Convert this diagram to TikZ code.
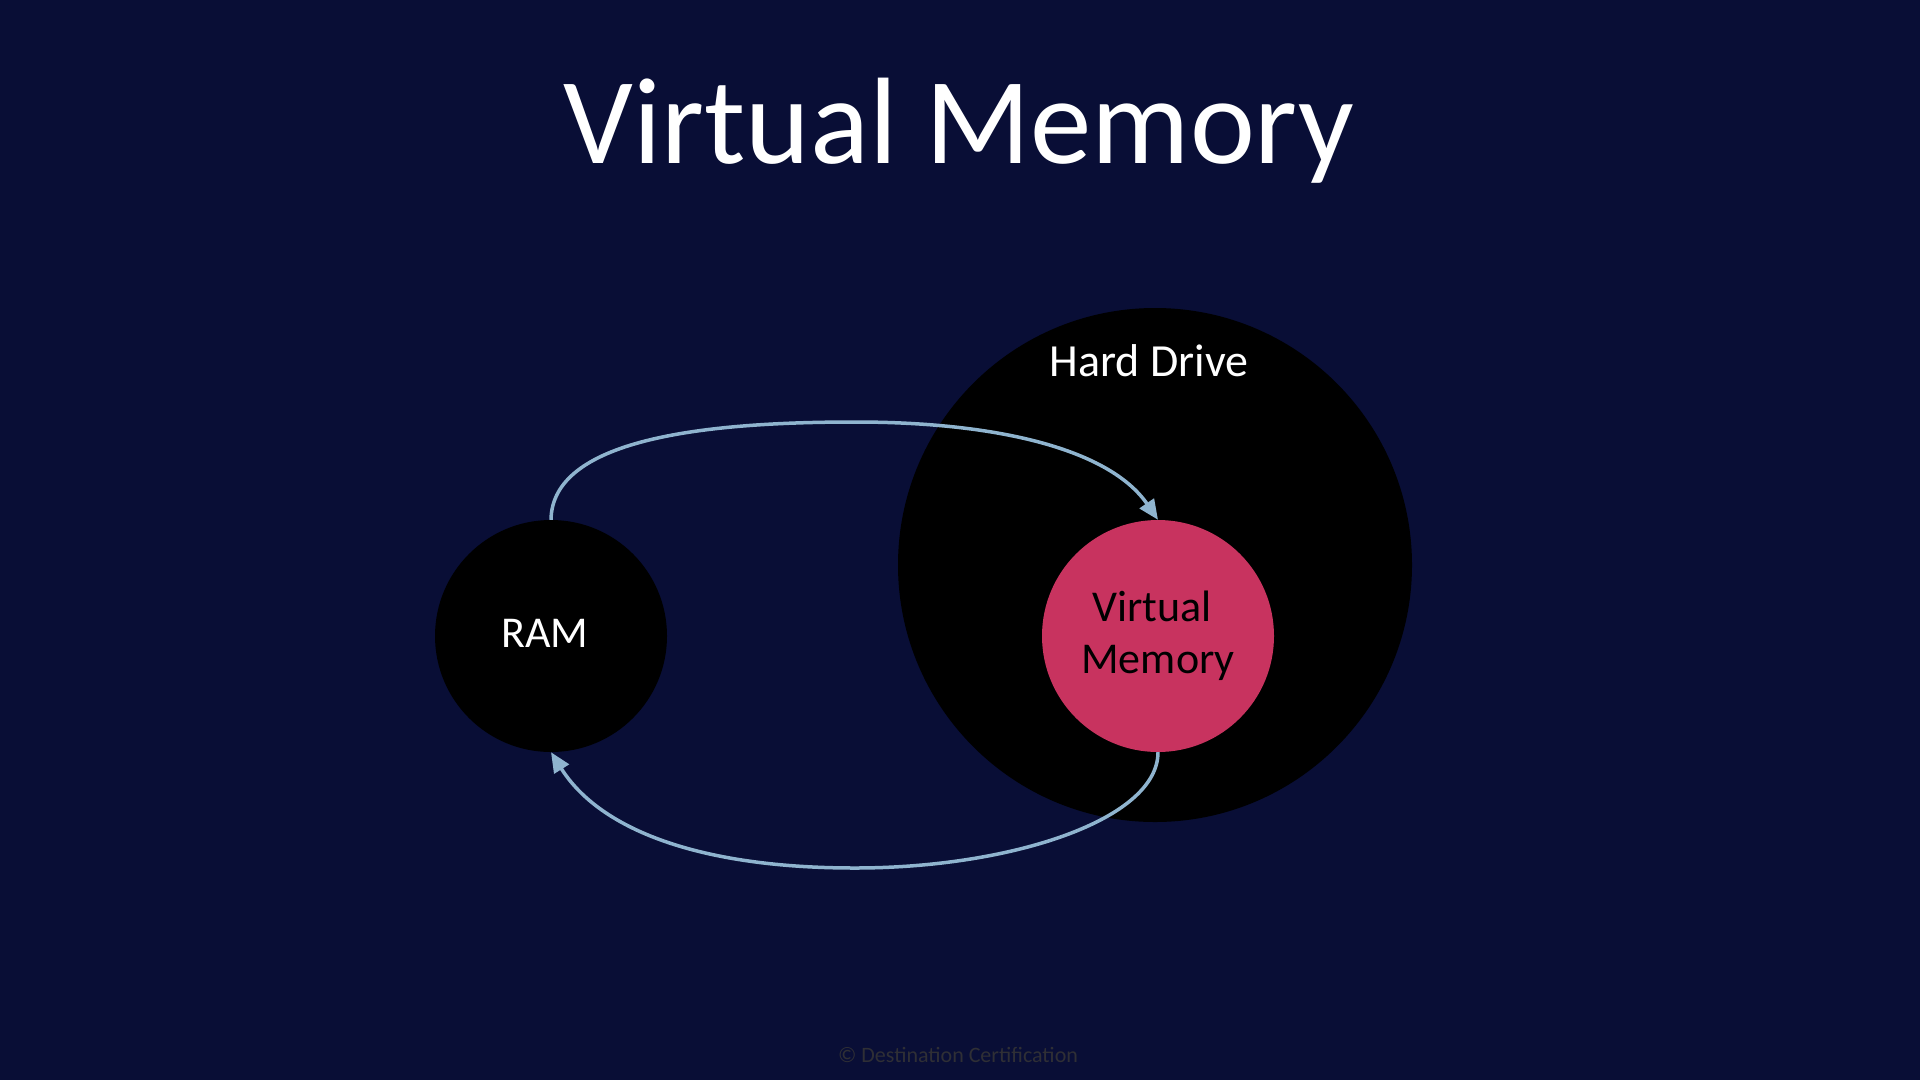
\documentclass[tikz,border=0pt]{standalone}
\usepackage{fontspec}
\setmainfont{Carlito}
\usetikzlibrary{arrows.meta}
\definecolor{bgnavy}{HTML}{090E36}
\definecolor{vmpink}{HTML}{C8335F}
\definecolor{arrowblue}{HTML}{8FB4CF}
\definecolor{footgrey}{HTML}{2F2F35}
\tikzset{
  disc/.style={circle, inner sep=0pt, minimum size=#1},
  label text/.style={anchor=base, inner sep=0pt, font=\fontsize{44}{48}\selectfont},
  flow/.style={draw=arrowblue, line width=3.5pt, -{Triangle[length=20pt,width=17pt]}}
}
\begin{document}
\begin{tikzpicture}[x=1pt,y=-1pt]
\fill[bgnavy] (0,0) rectangle (1920,1080);
\useasboundingbox (0,0) rectangle (1920,1080);

\node[anchor=base, inner sep=0pt, text=white, font=\fontsize{123}{130}\selectfont] (title) at (959,163) {Virtual Memory};

\node[disc=514pt, fill=black] (hd) at (1155,565) {};
\node[disc=232pt, fill=black] (ram) at (551,636) {};
\node[disc=232pt, fill=vmpink] (vm) at (1158,636) {};

\node[label text, text=white, font=\fontsize{46}{50}\selectfont] (hdl) at (1149,376) {Hard Drive};
\node[label text, text=white] (raml) at (545,647) {RAM};
\node[label text, text=black] (vml1) at (1152,621) {Virtual};
\node[label text, text=black] (vml2) at (1158,673) {Memory};

\draw[flow] (ram.north) .. controls (552,440) and (700,422) .. (855,422)
  .. controls (1000,422) and (1110,450) .. (vm.north);
\draw[flow] (vm.south) .. controls (1158,820) and (1010,868) .. (855,868)
  .. controls (700,868) and (600,830) .. (ram.south);

\node[anchor=base, inner sep=0pt, text=footgrey, font=\fontsize{22}{24}\selectfont] (foot) at (958,1062) {© Destination Certification};
\end{tikzpicture}
\end{document}
